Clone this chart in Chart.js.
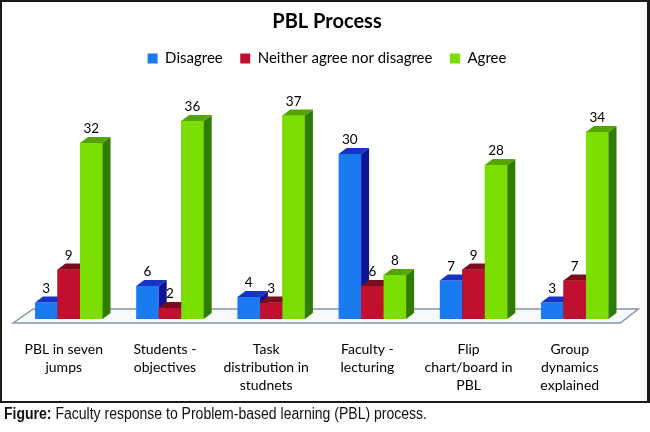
<!DOCTYPE html>
<html>
<head>
<meta charset="utf-8">
<title>PBL Process</title>
<script src="https://cdn.jsdelivr.net/npm/chart.js@4.4.1/dist/chart.umd.min.js"></script>
<style>
  html, body { margin: 0; padding: 0; background: #fff; }
  #wrap { position: relative; width: 650px; height: 432px; overflow: hidden; }
  #myChart { position: absolute; left: 0; top: 0; }
  #frame { position: absolute; left: 0; top: 0; width: 645px; height: 399px;
           border: 2px solid #1a1a1a; border-right-width: 3px; pointer-events: none; }
  #caption { position: absolute; left: 4px; top: 406px; color: #111; white-space: nowrap;
             transform-origin: 0 0;
             font: 16px/16px "Liberation Sans", sans-serif; }
</style>
</head>
<body>
<div id="wrap">
  <canvas id="myChart" width="650" height="432"></canvas>
  <div id="frame"></div>
  <div id="caption"><b>Figure:</b> Faculty response to Problem-based learning (PBL) process.</div>
</div>
<script>
// data
const categories = [
  ['PBL in seven', 'jumps'],
  ['Students -', 'objectives'],
  ['Task', 'distribution in', 'studnets'],
  ['Faculty -', 'lecturing'],
  ['Flip', 'chart/board in', 'PBL'],
  ['Group', 'dynamics', 'explained']
];
const seriesNames = ['Disagree', 'Neither agree nor disagree', 'Agree'];
const disagree = [3, 6, 4, 30, 7, 3];
const neither = [9, 2, 3, 6, 9, 7];
const agree = [32, 36, 37, 8, 28, 34];

// colours: front, top, side
const frontColors = ['#1a7af2', '#c1102f', '#7ade00'];
const topColors = ['#1634c4', '#7c0c1d', '#56a400'];
const sideColors = ['#0b1596', '#86091f', '#2f7c00'];

const dx = 8, dy = 6;
const font = 'Lato';

// 3D faces, floor and value labels
const bars3d = {
  id: 'bars3d',
  beforeDatasetsDraw(chart) {
    const { ctx, chartArea: a } = chart;
    const b = chart.scales.y.getPixelForValue(0);
    ctx.save();
    ctx.beginPath();
    ctx.moveTo(a.left - 5, b + 4);
    ctx.lineTo(a.right - 5, b + 4);
    ctx.lineTo(a.right + 13, b - 10);
    ctx.lineTo(a.left + 15, b - 10);
    ctx.closePath();
    ctx.fillStyle = '#f8f9fb';
    ctx.fill();
    ctx.strokeStyle = '#8497a8';
    ctx.lineWidth = 1.5;
    ctx.stroke();
    ctx.restore();
  },
  afterDatasetsDraw(chart) {
    const ctx = chart.ctx;
    const metas = chart.getSortedVisibleDatasetMetas();
    ctx.save();
    for (let i = 0; i < chart.data.labels.length; i++) {
      metas.forEach((meta, d) => {
        const bar = meta.data[i];
        const l = bar.x - bar.width / 2, r = bar.x + bar.width / 2;
        const y = bar.y, base = bar.base;
        ctx.fillStyle = sideColors[d];
        ctx.beginPath();
        ctx.moveTo(r, y); ctx.lineTo(r + dx, y - dy);
        ctx.lineTo(r + dx, base - dy); ctx.lineTo(r, base);
        ctx.closePath(); ctx.fill();
        ctx.fillStyle = topColors[d];
        ctx.beginPath();
        ctx.moveTo(l, y); ctx.lineTo(l + dx, y - dy);
        ctx.lineTo(r + dx, y - dy); ctx.lineTo(r, y);
        ctx.closePath(); ctx.fill();
        const next = metas[d + 1];
        if (next) next.data[i].draw(ctx);
      });
    }
    ctx.font = '13.5px ' + font;
    ctx.fillStyle = '#000';
    ctx.textAlign = 'center';
    ctx.textBaseline = 'middle';
    metas.forEach((meta, d) => {
      meta.data.forEach((bar, i) => {
        ctx.fillText(chart.data.datasets[d].data[i], bar.x, bar.y - 14);
      });
    });
    ctx.restore();
  }
};

const data = {
  labels: categories,
  datasets: [disagree, neither, agree].map((values, d) => ({
    label: seriesNames[d],
    data: values,
    backgroundColor: frontColors[d],
    borderWidth: 0
  }))
};

const hiddenAxis = {
  grid: { display: false, drawTicks: false },
  border: { display: false },
  ticks: { display: false }
};

const config = {
  type: 'bar',
  data,
  plugins: [bars3d],
  options: {
    responsive: false,
    animation: false,
    layout: { padding: { left: 4, right: 0, top: 0, bottom: 0 } },
    datasets: { bar: { categoryPercentage: 0.667, barPercentage: 1 } },
    plugins: {
      title: {
        display: true,
        text: 'PBL Process',
        color: '#000',
        font: { family: font, size: 20, weight: 'bold' },
        padding: { top: 9.5, bottom: 0 }
      },
      legend: {
        labels: {
          color: '#000',
          font: { family: font, size: 15 },
          boxWidth: 10,
          boxHeight: 10,
          padding: 17.5
        }
      },
      tooltip: { enabled: false }
    },
    scales: {
      x: {
        grid: { display: false, drawTicks: false },
        border: { display: false },
        ticks: {
          color: '#000',
          font: { family: font, size: 14, lineHeight: 1.3 },
          padding: 21,
          labelOffset: -5,
          maxRotation: 0,
          autoSkip: false
        },
        afterFit(scale) { scale.height = 113; }
      },
      y: {
        ...hiddenAxis,
        position: 'left',
        min: 0,
        max: 44.2,
        afterFit(scale) { scale.width = 14.15; }
      },
      y2: {
        ...hiddenAxis,
        position: 'right',
        min: 0,
        max: 44.2,
        afterFit(scale) { scale.width = 24.65; }
      }
    }
  }
};

const myChart = new Chart(document.getElementById('myChart'), config);

// fit the caption to the width it has in the figure
const caption = document.getElementById('caption');
caption.style.transform = 'scaleX(' + (423 / caption.getBoundingClientRect().width) + ')';
</script>
</body>
</html>
